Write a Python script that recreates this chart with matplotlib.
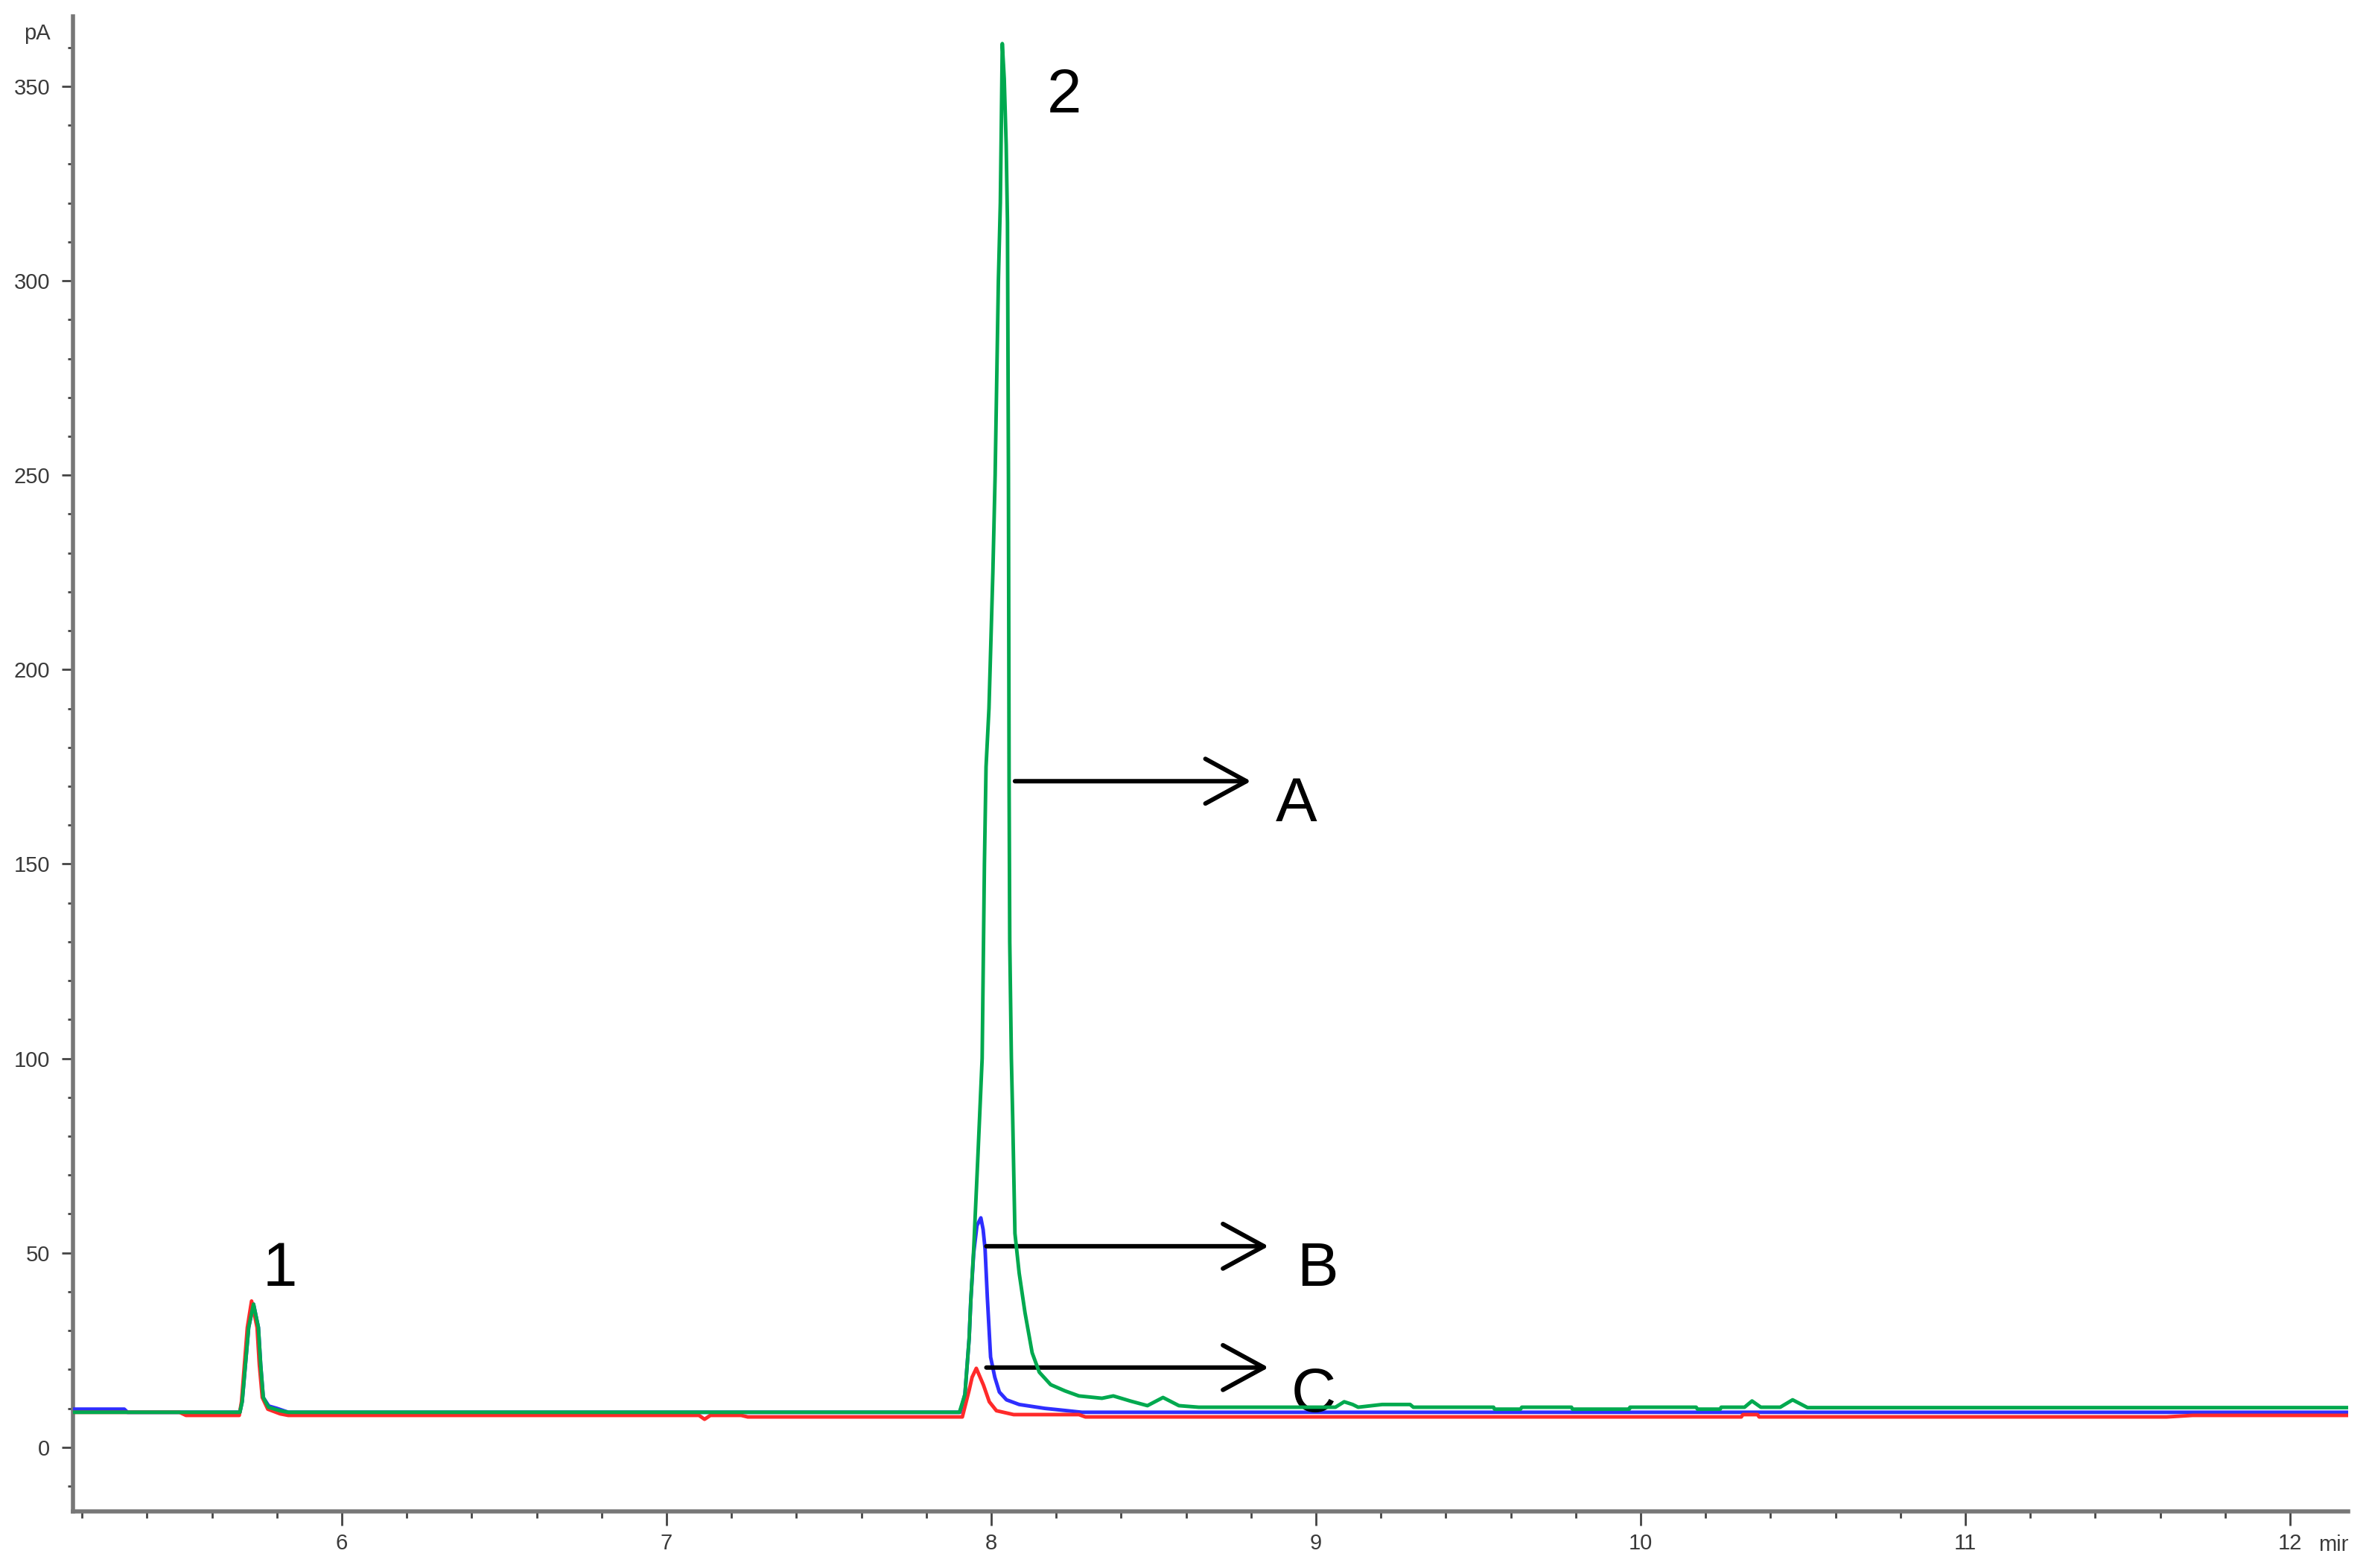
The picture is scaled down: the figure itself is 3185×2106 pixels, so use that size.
import matplotlib
matplotlib.use("Agg")
import matplotlib.pyplot as plt
from matplotlib.ticker import MultipleLocator, FixedLocator
from matplotlib.transforms import Bbox

plt.rcParams['font.family'] = ['Liberation Sans', 'DejaVu Sans']

# ---------------- data ----------------
# Trace A (green)
time_A = [5.172, 5.686, 5.693, 5.703, 5.713, 5.728, 5.743, 5.750, 5.758, 5.774, 5.810, 5.835,
          7.902, 7.919, 7.932, 7.937, 7.946, 7.959, 7.972, 7.979, 7.984, 7.993, 8.005, 8.012,
          8.022, 8.028, 8.031, 8.034, 8.040, 8.046, 8.050, 8.053, 8.055, 8.057, 8.062, 8.066,
          8.069, 8.073, 8.086, 8.104, 8.126, 8.148, 8.183, 8.227, 8.270, 8.341, 8.376, 8.428,
          8.481, 8.529, 8.578, 8.639, 9.060, 9.087, 9.113, 9.130, 9.204, 9.290, 9.300,
          9.547, 9.550, 9.630, 9.634, 9.787, 9.790, 9.965, 9.967, 10.171, 10.175, 10.245, 10.248,
          10.320, 10.343, 10.370, 10.430, 10.468, 10.514, 12.179]
pA_A = [9.0, 9.0, 11.7, 21.2, 30.8, 36.8, 30.8, 21.2, 12.8, 10.3, 9.4, 9.0,
        9.0, 13.6, 28.0, 37.7, 51.0, 75.0, 100.0, 150.0, 175.0, 190.0, 225.0, 250.0,
        300.0, 320.0, 340.0, 361.0, 352.0, 335.0, 315.0, 250.0, 170.0, 130.0, 100.0, 85.0,
        72.0, 55.0, 44.8, 34.6, 24.3, 19.3, 16.1, 14.5, 13.2, 12.6, 13.2, 11.9,
        10.7, 12.8, 10.7, 10.3, 10.3, 11.7, 11.0, 10.3, 11.0, 11.0, 10.3,
        10.3, 9.8, 9.8, 10.3, 10.3, 9.8, 9.8, 10.3, 10.3, 9.8, 9.8, 10.3,
        10.3, 11.9, 10.3, 10.3, 12.2, 10.2, 10.2]

# Trace B (blue)
time_B = [5.172, 5.330, 5.340, 5.686, 5.693, 5.703, 5.713, 5.728, 5.743, 5.750, 5.758, 5.775,
          5.800, 5.835, 7.904, 7.919, 7.932, 7.937, 7.946, 7.956, 7.968, 7.975, 7.981, 7.988,
          7.998, 8.011, 8.025, 8.047, 8.086, 8.165, 8.200, 8.279, 12.179]
pA_B = [9.8, 9.8, 9.0, 9.0, 11.7, 21.2, 30.8, 36.8, 30.8, 21.2, 12.8, 10.6,
        10.0, 9.0, 9.0, 13.6, 28.0, 37.7, 50.0, 57.0, 59.0, 56.0, 51.0, 38.5,
        23.2, 18.0, 14.2, 12.2, 11.0, 10.0, 9.7, 9.0, 9.0]

# Trace C (red)
time_C = [5.172, 5.500, 5.520, 5.684, 5.691, 5.700, 5.709, 5.722, 5.739, 5.746, 5.755, 5.772,
          5.810, 5.835, 7.100, 7.117, 7.135, 7.230, 7.250, 7.911, 7.932, 7.941, 7.954, 7.976,
          7.994, 8.016, 8.069, 8.270, 8.290, 10.310, 10.315, 10.360, 10.365, 11.620, 11.700,
          12.179]
pA_C = [9.0, 9.0, 8.2, 8.2, 11.7, 21.2, 30.8, 37.6, 30.8, 21.2, 12.8, 9.8,
        8.6, 8.2, 8.2, 7.2, 8.2, 8.2, 7.8, 7.8, 14.7, 18.0, 20.3, 16.0,
        11.7, 9.4, 8.4, 8.4, 7.8, 7.8, 8.4, 8.4, 7.8, 7.8, 8.2,
        8.2]

x_major = [6, 7, 8, 9, 10, 11, 12]
y_major = [0, 50, 100, 150, 200, 250, 300, 350]

peak_labels = ["1", "2"]
trace_labels = ["A", "B", "C"]

# ---------------- figure ----------------
W, H = 3185, 2106
fig = plt.figure(figsize=(W / 100, H / 100), dpi=100)
ax = fig.add_axes([98 / W, (H - 2030) / H, (3153 - 98) / W, (2030 - 22) / H])

green = '#00a94f'
blue = '#2e2eff'
red = '#ff2a2a'

ax.plot(time_B, pA_B, color=blue, lw=3.5, solid_joinstyle='round', zorder=3)
ax.plot(time_C, pA_C, color=red, lw=3.5, solid_joinstyle='round', zorder=4)
ax.plot(time_A, pA_A, color=green, lw=3.5, solid_joinstyle='round', zorder=5)

ax.set_xlim(5.172, 12.179)
ax.set_ylim(-16.5, 368)

for s in ['top', 'right']:
    ax.spines[s].set_visible(False)
for s in ['left', 'bottom']:
    ax.spines[s].set_color('#777777')
    ax.spines[s].set_linewidth(4)

ax.xaxis.set_major_locator(FixedLocator(x_major))
ax.yaxis.set_major_locator(FixedLocator(y_major))
ax.xaxis.set_minor_locator(MultipleLocator(0.2))
ax.yaxis.set_minor_locator(MultipleLocator(10))
ax.set_xticklabels([str(v) for v in x_major])
ax.set_yticklabels([str(v) for v in y_major])

ax.tick_params(axis='y', which='major', direction='out', length=11, width=2,
               color='#444444', labelsize=21, labelcolor='#3a3a3a', pad=11)
ax.tick_params(axis='y', which='minor', direction='out', length=5, width=2, color='#444444')
ax.tick_params(axis='x', which='major', direction='out', length=14, width=2,
               color='#444444', labelsize=21, labelcolor='#3a3a3a', pad=7)
ax.tick_params(axis='x', which='minor', direction='out', length=6.5, width=2, color='#444444')

fig.text(50 / W, 1 - 53 / H, 'pA', ha='center', va='baseline', fontsize=21, color='#3a3a3a')
t_min = fig.text(3113 / W, 1 - 2083 / H, 'min', ha='left', va='baseline', fontsize=21,
                 color='#3a3a3a')
# the original picture is cut off at the end of the time axis
t_min.set_clip_box(Bbox([[0, 0], [3153, H]]))
t_min.set_clip_on(True)

# peak numbers
ax.text(5.810, 41.5, peak_labels[0], ha='center', va='baseline', fontsize=60, color='black')
ax.text(8.225, 343.3, peak_labels[1], ha='center', va='baseline', fontsize=60, color='black')

# arrows and trace letters
arrow_kw = dict(arrowstyle='->,head_length=3.96,head_width=2.16', lw=4.3, color='black',
                shrinkA=0, shrinkB=0, mutation_scale=10)
ax.annotate('', xy=(8.800, 171.3), xytext=(8.073, 171.3), arrowprops=arrow_kw)
ax.annotate('', xy=(8.854, 51.7), xytext=(7.985, 51.7), arrowprops=arrow_kw)
ax.annotate('', xy=(8.854, 20.5), xytext=(7.985, 20.5), arrowprops=arrow_kw)

ax.text(8.940, 161.1, trace_labels[0], ha='center', va='baseline', fontsize=60, color='black')
ax.text(9.005, 41.5, trace_labels[1], ha='center', va='baseline', fontsize=60, color='black')
ax.text(8.993, 9.2, trace_labels[2], ha='center', va='baseline', fontsize=60, color='black')

fig.savefig('out.png', dpi=100, facecolor='white')
